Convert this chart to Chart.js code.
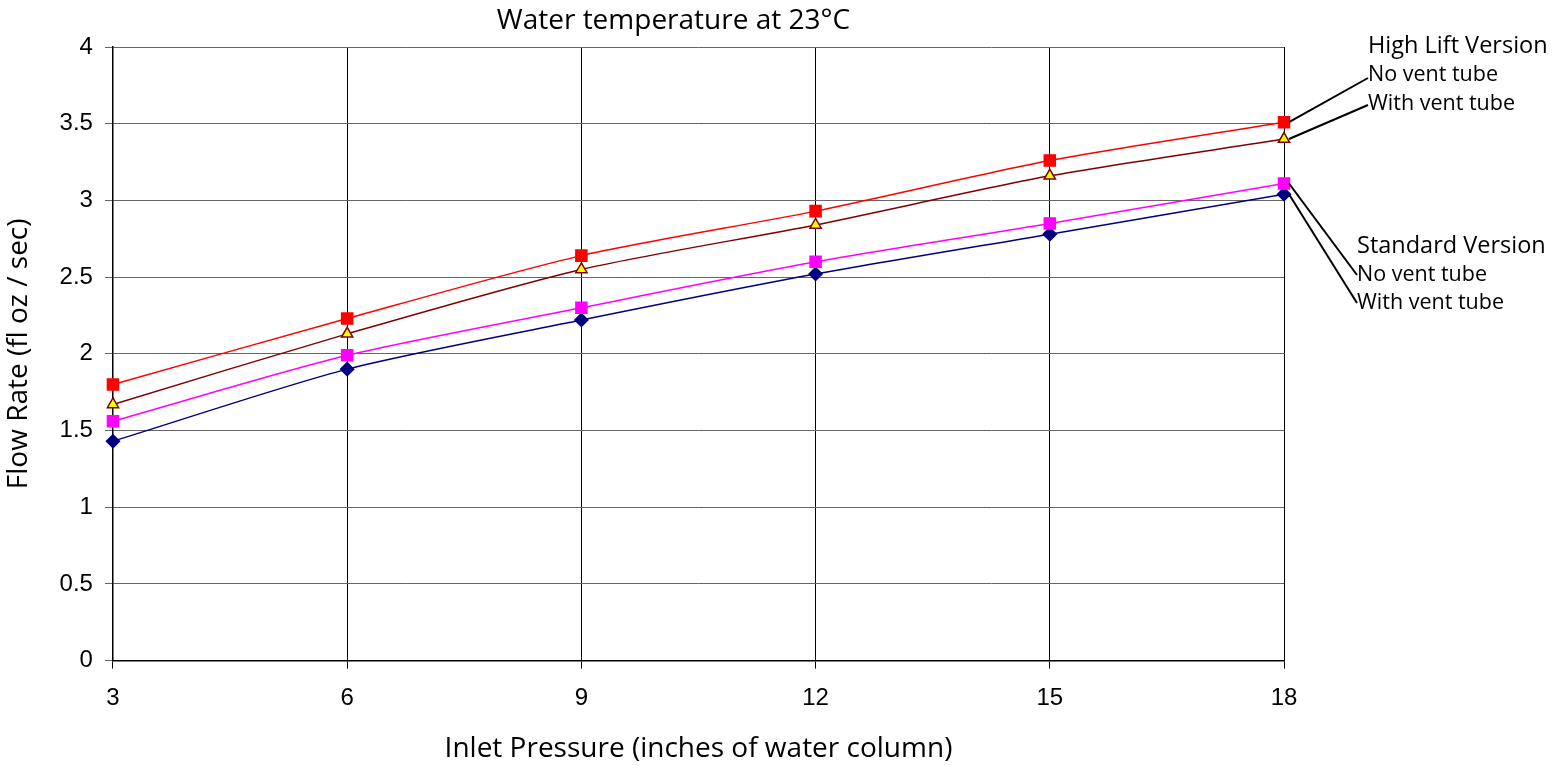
<!DOCTYPE html>
<html>
<head>
<meta charset="utf-8">
<script src="https://cdn.jsdelivr.net/npm/chart.js@4"></script>
<style>
  html, body { margin: 0; padding: 0; background: #fff; }
  #wrap { width: 1565px; height: 766px; }
</style>
</head>
<body>
<div id="wrap"><canvas id="flowChart"></canvas></div>
<script>
const pressures = [3, 6, 9, 12, 15, 18];
const highNoVent = [1.80, 2.23, 2.64, 2.93, 3.26, 3.51];
const highVent = [1.67, 2.13, 2.55, 2.84, 3.16, 3.40];
const stdNoVent = [1.56, 1.99, 2.30, 2.60, 2.85, 3.11];
const stdVent = [1.43, 1.90, 2.22, 2.52, 2.78, 3.04];

const chartTitle = 'Water temperature at 23°C';
const xTitle = 'Inlet Pressure (inches of water column)';
const yTitle = 'Flow Rate (fl oz / sec)';

function pts(vals) {
  return pressures.map(function (p, i) { return { x: p, y: vals[i] }; });
}

// title plus the labels on the right with leader lines to the last points
const sideLabels = {
  id: 'sideLabels',
  afterDraw: function (chart) {
    const c = chart.ctx;
    const xs = chart.scales.x, ys = chart.scales.y;
    const ca = chart.chartArea;
    const lastX = xs.getPixelForValue(18);
    c.save();
    c.fillStyle = '#000';
    c.textBaseline = 'middle';
    c.textAlign = 'center';
    c.font = '28px "Open Sans"';
    c.fillText(chartTitle, (ca.left + ca.right) / 2 - 25, 21);

    c.textAlign = 'left';
    c.font = '23.5px "Open Sans"';
    c.fillText('High Lift Version', 1368, 46);
    c.fillText('Standard Version', 1357, 246);
    c.font = '21.5px "Open Sans"';
    c.fillText('No vent tube', 1368, 75);
    c.fillText('With vent tube', 1368, 104);
    c.fillText('No vent tube', 1357, 275);
    c.fillText('With vent tube', 1357, 303);

    c.strokeStyle = '#000';
    c.lineWidth = 2;
    const leaders = [
      [highNoVent[5], 1368, 78],
      [highVent[5], 1368, 105],
      [stdNoVent[5], 1357, 275],
      [stdVent[5], 1357, 303]
    ];
    leaders.forEach(function (l) {
      c.beginPath();
      c.moveTo(lastX + 5, ys.getPixelForValue(l[0]));
      c.lineTo(l[1], l[2]);
      c.stroke();
    });
    c.restore();
  }
};

new Chart(document.getElementById('flowChart'), {
  type: 'line',
  data: {
    datasets: [
      {
        label: 'High Lift - No vent tube',
        data: pts(highNoVent),
        borderColor: '#FF0000',
        backgroundColor: '#FF0000',
        pointStyle: 'rect',
        pointRadius: 7.8,
        borderWidth: 1.5,
        clip: false
      },
      {
        label: 'High Lift - With vent tube',
        data: pts(highVent),
        borderColor: '#800000',
        backgroundColor: '#FFFF00',
        pointBorderColor: '#800000',
        pointBorderWidth: 1.5,
        pointStyle: 'triangle',
        pointRadius: 6.5,
        borderWidth: 1.5,
        clip: false
      },
      {
        label: 'Standard - No vent tube',
        data: pts(stdNoVent),
        borderColor: '#FF00FF',
        backgroundColor: '#FF00FF',
        pointStyle: 'rect',
        pointRadius: 7.8,
        borderWidth: 1.5,
        clip: false
      },
      {
        label: 'Standard - With vent tube',
        data: pts(stdVent),
        borderColor: '#000080',
        backgroundColor: '#000080',
        pointStyle: 'rectRot',
        pointRadius: 6.5,
        borderWidth: 1.5,
        clip: false
      }
    ]
  },
  options: {
    responsive: true,
    maintainAspectRatio: false,
    animation: false,
    tension: 0.25,
    layout: { padding: { top: 47, right: 281, left: 0, bottom: 0 } },
    plugins: {
      legend: { display: false },
      tooltip: { enabled: false }
    },
    scales: {
      x: {
        type: 'linear',
        min: 3,
        max: 18,
        ticks: {
          stepSize: 3,
          color: '#000',
          padding: 15,
          font: { family: '"Liberation Sans"', size: 24 }
        },
        grid: { color: '#000', lineWidth: 1, tickLength: 8 },
        border: { color: '#000', width: 1.5 },
        title: {
          display: true,
          text: xTitle,
          color: '#000',
          padding: { top: 5, bottom: 0 },
          font: { family: '"Open Sans"', size: 28 }
        }
      },
      y: {
        min: 0,
        max: 4,
        ticks: {
          stepSize: 0.5,
          color: '#000',
          padding: 12,
          font: { family: '"Liberation Sans"', size: 24 },
          callback: function (v) { return String(v); }
        },
        grid: { color: '#666', lineWidth: 1, tickLength: 8 },
        border: { color: '#000', width: 1.5 },
        title: {
          display: true,
          text: yTitle,
          color: '#000',
          padding: { top: 2, bottom: 12 },
          font: { family: '"Open Sans"', size: 28 }
        }
      }
    }
  },
  plugins: [sideLabels]
});
</script>
</body>
</html>
